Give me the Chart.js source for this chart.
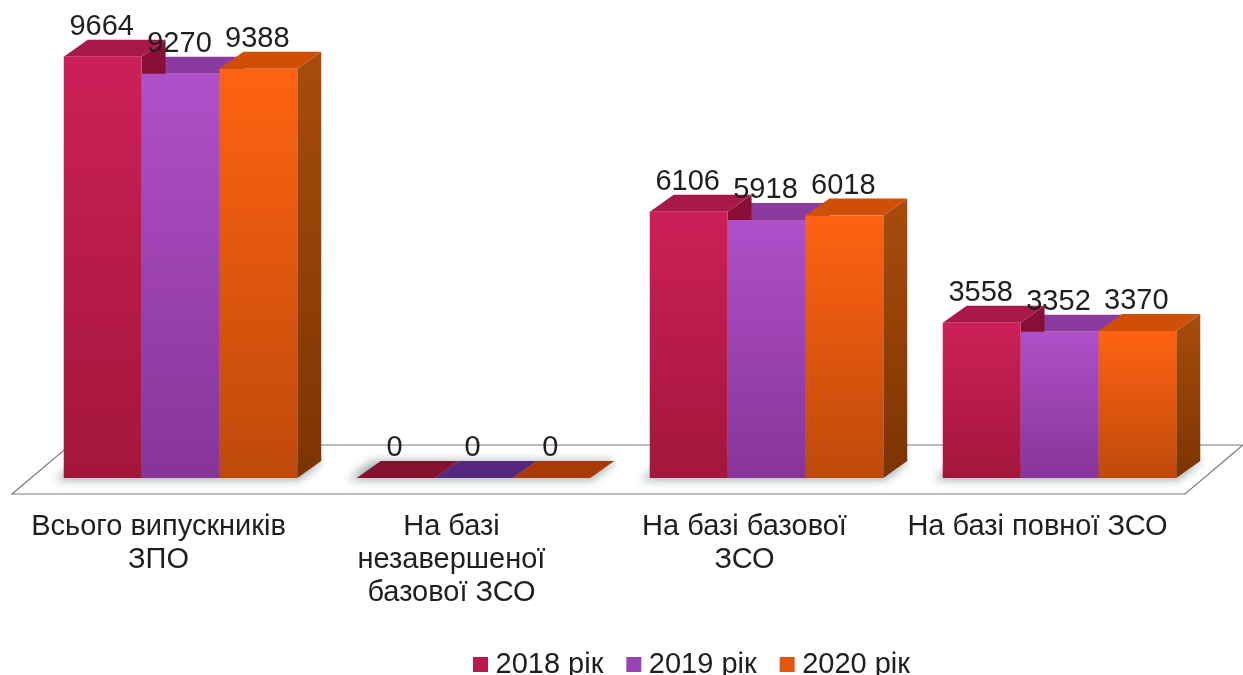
<!DOCTYPE html>
<html><head><meta charset="utf-8">
<style>html,body{margin:0;padding:0;background:#fff}canvas{display:block}</style>
<script src="https://cdn.jsdelivr.net/npm/chart.js@4"></script>
</head><body><canvas id="c" width="1243" height="675"></canvas>
<script>
const categories = [["Всього випускників","ЗПО"],["На базі","незавершеної","базової ЗСО"],["На базі базової","ЗСО"],["На базі повної ЗСО"]];
const seriesNames = ["2018 рік","2019 рік","2020 рік"];
const series2018 = [9664,0,6106,3558];
const series2019 = [9270,0,5918,3352];
const series2020 = [9388,0,6018,3370];
const seriesValues = [series2018,series2019,series2020];
const frontTop = ["#CC2058","#AF50C8","#FF6212"];
const frontBottom = ["#A3163C","#873499","#BE4A0A"];
const topColors = ["#A8184A","#8B3BA0","#CF4F08"];
const zeroTopColors = ["#84122F","#55277F","#A83A08"];
const sideTop = ["#8A0F38","#6F2A84","#A84C0C"];
const sideBottom = ["#6E0C28","#5A2070","#7C3402"];
const legendColors = ["#B81A4C","#9A42B4","#E2560E"];
const DX = 24, DY = 17;
const FONT = "'Liberation Sans', Arial, sans-serif";
const TEXT = "#1f1f1f";

function poly(ctx, pts){ctx.beginPath();pts.forEach((p,i)=>i?ctx.lineTo(p[0],p[1]):ctx.moveTo(p[0],p[1]));ctx.closePath();}

const depth3d = {
  id:'depth3d',
  afterLayout(chart){
    const l = chart.legend;
    const dx = 75;
    l.left += dx; l.right += dx;
    const dy = 620 - l.top; l.top += dy; l.bottom += dy;
  },
  beforeDatasetsDraw(chart){
    const ctx = chart.ctx, base = chart.scales.y.getPixelForValue(0);
    ctx.save();
    poly(ctx,[[12,base+16],[1185,base+16],[1243,base-33],[70,base-33]]);
    ctx.fillStyle='#fff';ctx.fill();
    ctx.strokeStyle='#7c7c7c';ctx.lineWidth=1.2;ctx.stroke();
    ctx.filter='blur(5px)';
    ctx.fillStyle='rgba(85,110,110,.55)';
    categories.forEach((c,j)=>{
      const m0=chart.getDatasetMeta(0).data[j], m2=chart.getDatasetMeta(2).data[j];
      const l=m0.x-m0.width/2-9, r=m2.x+m2.width/2+26;
      poly(ctx,[[l,base+2],[r-DX,base+2],[r,base-DY],[l+DX,base-DY]]);
      ctx.fill();
    });
    ctx.filter='none';
    categories.forEach((c,j)=>{
      const order=[0,1,2].sort((a,b)=>(seriesValues[a][j]-seriesValues[b][j])||(b-a));
      order.forEach(i=>{
        const b=chart.getDatasetMeta(i).data[j];
        const l=b.x-b.width/2,r=b.x+b.width/2,t=b.y,v=seriesValues[i][j];
        if(v>0){
          const g=ctx.createLinearGradient(0,t-DY,0,base);
          g.addColorStop(0,sideTop[i]);g.addColorStop(1,sideBottom[i]);
          ctx.fillStyle=g;
          poly(ctx,[[r,t],[r+DX,t-DY],[r+DX,base-DY],[r,base]]);ctx.fill();
        }
        ctx.fillStyle=v>0?topColors[i]:zeroTopColors[i];
        poly(ctx,[[l,t],[l+DX,t-DY],[r+DX,t-DY],[r,t]]);ctx.fill();
      });
    });
    ctx.restore();
  },
  afterDatasetsDraw(chart){
    const ctx=chart.ctx;
    ctx.save();
    ctx.font="29px "+FONT;ctx.fillStyle=TEXT;ctx.textAlign='center';ctx.textBaseline='middle';
    seriesValues.forEach((vals,i)=>{
      chart.getDatasetMeta(i).data.forEach((b,j)=>{
        ctx.fillText(String(vals[j]),b.x-1,b.y-30);
      });
    });
    ctx.restore();
  }
};

function frontFill(i){
  return (c)=>{
    const chart=c.chart;
    if(!chart.chartArea||c.parsed==null) return frontTop[i];
    const y=chart.scales.y, t=y.getPixelForValue(c.parsed.y), b=y.getPixelForValue(0);
    if(b-t<1) return frontTop[i];
    const g=chart.ctx.createLinearGradient(0,t,0,b);
    g.addColorStop(0,frontTop[i]);g.addColorStop(1,frontBottom[i]);
    return g;
  };
}

new Chart(document.getElementById('c'),{
  type:'bar',
  data:{labels:categories,datasets:seriesNames.map((n,i)=>({
    label:n,data:seriesValues[i],backgroundColor:frontFill(i),borderWidth:0,
    barPercentage:1,categoryPercentage:0.797
  }))},
  plugins:[depth3d],
  options:{
    responsive:false,animation:false,
    layout:{padding:{left:34,right:37,top:42,bottom:0}},
    scales:{
      x:{grid:{display:false,drawTicks:false},border:{display:false},
        afterFit(s){s.height=128;},
        ticks:{maxRotation:0,minRotation:0,autoSkip:false,labelOffset:-22,padding:32,color:TEXT,
          font:{family:FONT,size:29,lineHeight:1.14}}},
      y:{display:false,min:0,max:10000}
    },
    plugins:{
      tooltip:{enabled:false},
      legend:{position:'bottom',align:'center',
        labels:{usePointStyle:true,pointStyle:'rect',boxWidth:1,boxHeight:15,padding:30,color:TEXT,
          font:{family:FONT,size:29},
          generateLabels(chart){
            return seriesNames.map((n,i)=>({text:n,fillStyle:legendColors[i],strokeStyle:legendColors[i],lineWidth:0,pointStyle:'rect',datasetIndex:i,fontColor:TEXT}));
          }}}
    }
  }
});
</script></body></html>
